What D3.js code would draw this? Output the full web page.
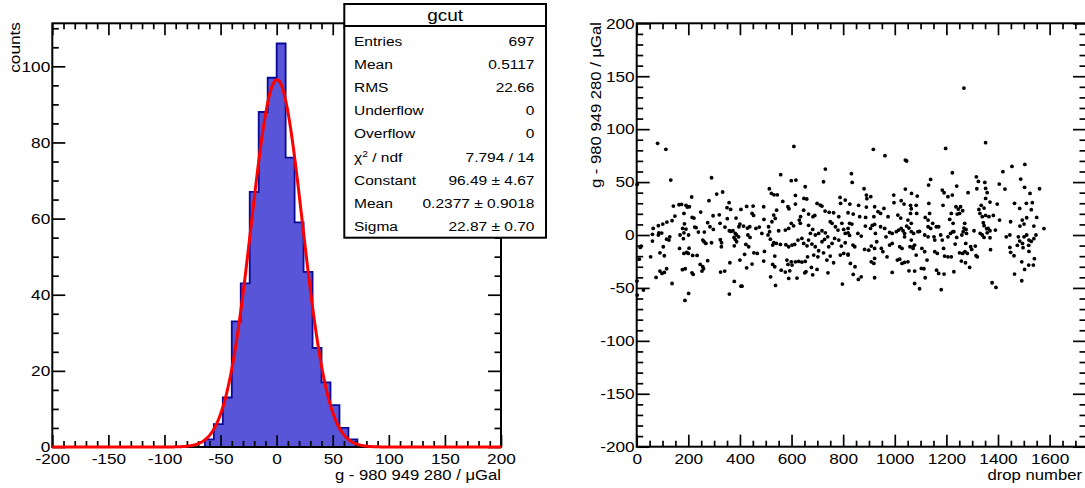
<!DOCTYPE html>
<html>
<head>
<meta charset="utf-8">
<script src="https://cdn.jsdelivr.net/npm/d3@7"></script>
<style>
  html, body { margin: 0; padding: 0; background: #fff; }
  svg { display: block; font-family: "Liberation Sans", Arial, Helvetica, sans-serif; }
  text { fill: #000; }
</style>
</head>
<body>
<svg id="chart" width="1085" height="488"></svg>
<script>
// ---------------- data ----------------
const binWidth = 8;
const histRange = [-200, 200];
const histCounts = [
  0,0,0,0,0,0,0,0,0,0, 0,0,0,0,0,0,0,
  2,6,13,33,43,67,88,97,106,76,59,46,26,17,11,5,2,
  0,0,0,0,0,0,0,0,0,0,0,0,0,0,0,0
];
const fitConstant = 96.49, fitMean = 0.2377, fitSigma = 22.87;
const histTitle = "gcut";
const statLabels = ["Entries", "Mean", "RMS", "Underflow", "Overflow", "χ2 / ndf", "Constant", "Mean", "Sigma"];
const statValues = ["697", "0.5117", "22.66", "0", "0", "7.794 / 14", "96.49 ± 4.67", "0.2377 ± 0.9018", "22.87 ± 0.70"];
const histXTicks = [-200, -150, -100, -50, 0, 50, 100, 150, 200];
const histYTicks = [0, 20, 40, 60, 80, 100];
const histXLabel = "g - 980 949 280 / μGal";
const histYLabel = "counts";

const scatXTicks = [0, 200, 400, 600, 800, 1000, 1200, 1400, 1600];
const scatYTicks = [-200, -150, -100, -50, 0, 50, 100, 150, 200];
const scatXLabel = "drop number";
const scatYLabel = "g - 980 949 280 / μGal";

// [drop number, g value]
const dropPoints = [
[81,86.6],[113,80.9],[132,51.9],[290,54.1],[2,47.8],[333,40.6],[310,38.7],[280,32.4],[213,35.9],[142,27.3],
[164,28.6],[174,28.9],[191,28],[196,26.4],[204,26.7],[358,30.5],[350,25.8],[364,24.2],[404,24.2],[148,17.9],
[183,20.4],[215,16.6],[222,16],[248,21.7],[296,18.2],[320,19.1],[351,15.4],[385,16],[137,13.5],[117,12.2],
[101,10.3],[84,8.8],[64,6.2],[275,11.6],[284,7.8],[323,11],[342,7.5],[185,10.6],[191,5.6],[225,7.5],
[230,6.9],[239,2.8],[262,2.8],[297,5.3],[359,4],[365,3.4],[373,4],[382,1.5],[387,0],[395,-1.7],
[400,10.3],[396,7.8],[86,2.1],[97,1.8],[84,0],[61,0.6],[61,-5.7],[178,6.2],[183,2.1],[201,0],
[116,-3.9],[128,-1.7],[125,-4.8],[168,0],[181,-3.5],[256,-4.8],[261,-6.4],[268,-8],[290,-7.3],[324,-4.5],
[329,-7.3],[328,-11.1],[377,-2.3],[382,-4.2],[387,-6.4],[378,-10.2],[17,-10.5],[14,-11.7],[103,-11.1],[166,-12.7],
[203,-12.4],[194,-16.5],[183,-17.4],[200,-17.4],[90,-16.8],[107,-19.6],[54,-20.6],[217,-19.3],[234,-19.3],[275,-24.3],
[10,-22.8],[361,-26.2],[400,-23.7],[246,-27.8],[256,-30],[259,-31.9],[253,-34.1],[177,-32.8],[188,-31.9],[214,-35.7],
[219,-37.2],[325,-35],[341,-34.1],[90,-34.1],[98,-36.3],[107,-35.4],[116,-31.9],[75,-40.1],[137,-45.8],[378,-43.9],
[1,-43.5],[26,-52],[2,-56.8],[201,-55.2],[187,-61.8],[359,-55.8],[404,-48.3],
[609,83.7],[731,62.3],[558,57],[599,51.3],[617,51.9],[724,50.3],[514,43.7],[653,45.6],[522,39.3],[532,38],
[545,38],[615,37.4],[648,34.6],[659,34],[566,31.7],[586,26.7],[590,24.8],[615,29.2],[699,29.8],[711,28.3],
[718,27.3],[426,27],[451,27.3],[492,26.7],[542,23.5],[647,23.5],[666,19.8],[683,17.3],[690,18.5],[730,22.6],
[746,21.4],[763,21],[783,17.3],[788,35.5],[790,29.8],[808,33],[447,20.4],[453,18.5],[531,18.8],[537,15.7],
[524,12.5],[493,14.7],[635,17.3],[630,14.1],[634,11],[599,11],[589,6.2],[608,8.7],[414,8.4],[429,6.5],
[438,7.8],[462,6.2],[475,7.5],[485,1.5],[511,7.8],[515,3.1],[509,0],[550,4],[576,4.7],[431,0],
[439,-2.3],[423,-8.9],[434,-11.1],[518,-3.9],[531,-7.3],[527,-9.5],[541,-8],[454,-16.8],[467,-17.4],[418,-18.3],
[495,-15.5],[535,-19.9],[447,-27.5],[426,-31],[492,-24.6],[527,-27.8],[535,-30],[586,-27.8],[602,-28.4],[560,-33.2],
[576,-35],[593,-33.8],[519,-39.5],[589,-41],[621,-40.7],[538,-47.6],[408,-48.3],[797,-46.4],
[666,9.1],[682,5.3],[673,1.5],[692,0],[705,1.5],[718,4],[731,2.1],[740,-1.7],[750,12.5],[757,11],
[770,7.8],[780,4.7],[795,11],[802,5.3],[808,1.5],[819,6.2],[557,-8.9],[578,-9.2],[589,-11.1],[602,-9.5],
[612,-8.9],[625,-4.8],[640,-3.2],[647,-8],[660,-10.2],[666,-4.8],[679,-8.6],[692,-11.1],[705,-14.9],[718,-6.4],
[728,-4.2],[744,-11.1],[757,-8],[767,-3.2],[783,-4.8],[793,-10.5],[808,-7.3],[582,-23.7],[599,-25.3],[615,-25.3],
[628,-25],[640,-25.6],[653,-25],[662,-20.6],[686,-19],[702,-20.6],[724,-16.8],[737,-23.7],[750,-19.9],[763,-26.2],
[789,-19],[802,-17.4],[819,-18],[651,-35.7],[656,-34.7],[677,-30.6],[682,-37.6],[699,-32.5],[741,-35.7],
[917,80.9],[962,74.9],[1041,70.8],[1046,69.9],[1197,81.8],[1223,58.8],[832,57.9],[835,49.7],[1139,52.5],[1131,47.2],
[881,43.7],[890,37.7],[892,34.3],[907,36.2],[1041,43.4],[996,37.7],[997,30.5],[1065,39.3],[1087,36.8],[1184,42.4],
[1191,39.9],[1206,36.2],[1223,37.7],[826,29.2],[860,28],[890,26.4],[922,26.7],[958,25.1],[1025,32.4],[1036,29.2],
[1132,29.8],[1187,28],[819,21],[839,19.8],[864,17.3],[887,16.6],[919,17.3],[935,22],[945,20.4],[974,17.3],
[1012,18.8],[1023,16],[1051,14.1],[1064,11],[1219,20.4],[1213,14.7],[1226,11],[825,11],[834,10.3],[886,8.4],
[906,6.2],[913,9],[922,10],[945,7.8],[961,6.2],[980,2.4],[990,1.5],[1129,7.8],[1139,6.2],[1147,11],
[819,2.1],[825,-0.4],[870,-1],[857,1.5],[925,1.5],[930,-6.4],[966,-1.7],[1206,-1.7],[1216,1.5],[1225,3.1],
[838,-9.5],[845,-11.1],[980,-9.5],[990,-8],[819,-19],[828,-26.9],[846,-30],[1125,-23.7],[839,-37.2],[859,-42],
[870,-39.5],[922,-40.4],[990,-35.4],[1055,-33.8],[1077,-34.1],[1118,-40.4],[1077,-45.8],[1096,-50.8],[1180,-51.7],
[1061,28],[1064,24.8],[1083,28],[1061,20.4],[1085,20.4],[1118,16.6],[1129,14.1],[1135,20.4],[1161,7.8],[1170,7.8],
[1006,3.1],[1015,4.7],[1025,6.2],[1032,4],[1038,1.5],[1046,8.4],[1055,6.5],[1064,3.1],[1073,1.5],[1090,3.1],
[1096,3.4],[1038,-1.7],[1064,-4.8],[1071,-11.1],[1116,0],[1129,-1.7],[1155,-4.8],[1152,-1.7],[1178,0],[1184,-4.8],
[883,-13.6],[899,-14.3],[909,-10.5],[922,-12.7],[948,-12.7],[954,-15.8],[970,-20.6],[1019,-11.1],[1028,-12.7],[1059,-11.1],
[1071,-12.7],[1077,-9.5],[1083,-19],[1105,-12.7],[1116,-15.8],[1155,-15.8],[1165,-17.4],[1189,-12.7],[1193,-19.9],[1206,-20.6],
[1219,-20.6],[909,-25.3],[919,-26.9],[922,-22.1],[1010,-23.7],[1019,-22.8],[1028,-26.9],[1038,-25.9],[1051,-25.3],[1103,-31.6],
[1113,-31.9],[1162,-33.2],[1170,-36.3],[1191,-36.9],
[1268,138.8],[1352,87.2],[1419,59.8],[1454,64.8],[1504,66.7],[1488,52.8],[1503,45],[1524,39.3],[1561,43.7],[1316,55],
[1324,50.6],[1349,49.7],[1352,44],[1358,40],[1405,48.1],[1427,43.4],[1240,46.2],[1318,43.7],[1284,40],[1352,34.6],
[1369,31.1],[1397,29.2],[1406,14.1],[1449,12.5],[1307,4],[1390,4.7],[1432,-1.7],[1446,0],[1371,-13.9],[1446,-11.7],
[1449,-16.4],[1462,-19.6],[1578,6.1],[1258,-24.6],[1274,-26.2],[1290,-30.6],[1229,-34.7],[1464,-36.9],[1492,-43.2],[1377,-45.1],
[1392,-49.5],
[1464,29.9],[1484,25.1],[1510,29.9],[1533,30.5],[1529,23.9],[1511,16.3],[1494,14.1],[1485,8.4],[1501,10.3],[1539,8.4],
[1550,16.6],[1246,24.5],[1255,26.7],[1263,22.9],[1237,26.7],[1242,19.8],[1251,20.4],[1326,24.2],[1335,28],[1346,25.4],
[1330,20.4],[1339,17.3],[1352,18.5],[1365,17.3],[1382,18.5],[1343,11.6],[1346,8.8],[1356,5.9],[1362,6.2],[1369,4],
[1271,11],[1268,6.5],[1276,5.3],[1265,3.1],[1260,0],[1278,1.5],[1331,1.5],[1339,0],[1346,-2.3],[1358,2.1],
[1369,-2.6],[1479,-1.7],[1484,-5.7],[1495,-8],[1501,-1.7],[1511,0],[1520,-4.8],[1529,-6.1],[1539,-3.5],[1547,0],
[1229,3.1],[1240,-2.3],[1234,-8.6],[1251,-16.8],[1263,-17.4],[1272,-15.8],[1281,-17.4],[1275,-8],[1294,-11.1],[1298,-13.6],
[1312,-10.5],[1315,-19.6],[1320,-20.6],[1475,-9.8],[1497,-12],[1519,-9.8],[1520,-15.5],[1492,-25.3],[1503,-32.5],[1519,-28.4],
[1537,-28.4],[1541,-22.4]
];

// ---------------- drawing ----------------
const SX = 1.15;           // horizontal text stretch of the reference rendering
const svg = d3.select("#chart");

function addText(parent, x, y, str, size, anchor, rot) {
  return parent.append("text")
    .attr("transform", `translate(${x},${y})` + (rot ? ` rotate(${rot})` : "") + ` scale(${SX},1)`)
    .attr("font-size", size)
    .attr("text-anchor", anchor)
    .text(str);
}

function minorTicks(majors, n) {
  const out = [];
  for (let i = 0; i < majors.length - 1; i++) {
    const a = majors[i], b = majors[i + 1];
    for (let k = 1; k < n; k++) out.push(a + (b - a) * k / n);
  }
  return out;
}

function drawAxes(g, x, y, xMaj, xMin, yMaj, yMin) {
  const [x0, x1] = x.range();
  const [y0, y1] = y.range();
  const fmt = d => String(d);
  const style = sel => {
    sel.select(".domain").remove();
    sel.selectAll(".tick line").attr("stroke", "#000").attr("stroke-width", 1.7);
  };
  // bottom
  const b = g.append("g").attr("transform", `translate(0,${y0})`)
    .call(d3.axisBottom(x).tickValues(xMaj).tickSize(-12).tickSizeOuter(0).tickFormat(fmt)).call(style);
  b.selectAll("text").attr("y", null).attr("dy", null).attr("font-size", 15)
    .attr("font-family", "Liberation Sans, Arial, sans-serif").attr("fill", "#000")
    .attr("transform", `translate(0,17) scale(${SX},1)`);
  g.append("g").attr("transform", `translate(0,${y0})`)
    .call(d3.axisBottom(x).tickValues(xMin).tickSize(-6).tickSizeOuter(0).tickFormat("")).call(style);
  // top
  g.append("g").attr("transform", `translate(0,${y1})`)
    .call(d3.axisTop(x).tickValues(xMaj).tickSize(-12).tickSizeOuter(0).tickFormat("")).call(style);
  g.append("g").attr("transform", `translate(0,${y1})`)
    .call(d3.axisTop(x).tickValues(xMin).tickSize(-6).tickSizeOuter(0).tickFormat("")).call(style);
  // left
  const l = g.append("g").attr("transform", `translate(${x0},0)`)
    .call(d3.axisLeft(y).tickValues(yMaj).tickSize(-13).tickSizeOuter(0).tickFormat(fmt)).call(style);
  l.selectAll("text").attr("x", null).attr("font-size", 15)
    .attr("font-family", "Liberation Sans, Arial, sans-serif").attr("fill", "#000")
    .attr("transform", `translate(-2,0) scale(${SX},1)`);
  g.append("g").attr("transform", `translate(${x0},0)`)
    .call(d3.axisLeft(y).tickValues(yMin).tickSize(-6.5).tickSizeOuter(0).tickFormat("")).call(style);
  // right
  g.append("g").attr("transform", `translate(${x1},0)`)
    .call(d3.axisRight(y).tickValues(yMaj).tickSize(-13).tickSizeOuter(0).tickFormat("")).call(style);
  g.append("g").attr("transform", `translate(${x1},0)`)
    .call(d3.axisRight(y).tickValues(yMin).tickSize(-6.5).tickSizeOuter(0).tickFormat("")).call(style);
  // frame
  g.append("rect").attr("x", x0).attr("y", y1).attr("width", x1 - x0).attr("height", y0 - y1)
    .attr("fill", "none").attr("stroke", "#000").attr("stroke-width", 2);
}

// ---------- left: histogram ----------
const xL = d3.scaleLinear().domain(histRange).range([52.3, 501]);
const yL = d3.scaleLinear().domain([0, 111.3]).range([447, 23.3]);
const gL = svg.append("g");

const bins = histCounts.map((c, i) => ({ lo: histRange[0] + i * binWidth, hi: histRange[0] + (i + 1) * binWidth, c }));
const stepPts = [[xL(histRange[0]), yL(0)]];
bins.forEach(b => { stepPts.push([xL(b.lo), yL(b.c)]); stepPts.push([xL(b.hi), yL(b.c)]); });
stepPts.push([xL(histRange[1]), yL(0)]);
gL.append("path").attr("d", d3.line()(stepPts) + "Z")
  .attr("fill", "#5955d9").attr("stroke", "#0a0a96").attr("stroke-width", 1.8)
  .attr("stroke-linejoin", "miter");

drawAxes(gL, xL, yL, histXTicks, minorTicks(histXTicks, 5), histYTicks,
  minorTicks(histYTicks.concat([120]), 4).filter(v => v <= 111.3));

// fitted gaussian (defined by the fit parameters from the stats box)
const fitXs = d3.range(histRange[0], histRange[1] + 0.5, 0.5);
gL.append("path")
  .attr("d", d3.line().x(v => xL(v)).y(v => yL(fitConstant * Math.exp(-0.5 * Math.pow((v - fitMean) / fitSigma, 2))))(fitXs))
  .attr("fill", "none").attr("stroke", "#ff0000").attr("stroke-width", 3);

addText(gL, 501, 480, histXLabel, 14.5, "end");
addText(gL, 19.5, 22, histYLabel, 15, "end", -90);

// stats box
const box = { x: 344.3, y: 4, w: 201.7, h: 233.7, titleH: 22 };
const gS = svg.append("g");
gS.append("rect").attr("x", box.x).attr("y", box.y).attr("width", box.w).attr("height", box.h)
  .attr("fill", "#fff").attr("stroke", "#000").attr("stroke-width", 2);
gS.append("line").attr("x1", box.x).attr("x2", box.x + box.w).attr("y1", box.y + box.titleH).attr("y2", box.y + box.titleH)
  .attr("stroke", "#000").attr("stroke-width", 2);
addText(gS, box.x + box.w / 2, 20.5, histTitle, 16.5, "middle");
statLabels.forEach((lab, i) => {
  const yb = 46 + i * 23.1;
  if (lab.startsWith("χ2")) {
    const t = addText(gS, 354, yb, "", 13.5, "start");
    t.append("tspan").text("χ");
    t.append("tspan").attr("font-size", 9).attr("dy", -5).text("2");
    t.append("tspan").attr("dy", 5).text(" / ndf");
  } else {
    addText(gS, 354, yb, lab, 13.5, "start");
  }
  addText(gS, 534.5, yb, statValues[i], 13.5, "end");
});

// ---------- right: scatter ----------
const xR = d3.scaleLinear().domain([0, 1741]).range([636.7, 1086]);
const yR = d3.scaleLinear().domain([-200, 200]).range([446.7, 23.3]);
const gR = svg.append("g");
gR.append("g").selectAll("circle").data(dropPoints).join("circle")
  .attr("cx", d => xR(d[0])).attr("cy", d => yR(d[1])).attr("r", 1.9).attr("fill", "#000");
drawAxes(gR, xR, yR, scatXTicks, minorTicks(scatXTicks.concat([1800]), 4).filter(v => v < 1741),
  scatYTicks, minorTicks(scatYTicks, 5));
addText(gR, 1082, 480, scatXLabel, 14.5, "end");
addText(gR, 600.5, 22, scatYLabel, 14.5, "end", -90);
</script>
</body>
</html>
